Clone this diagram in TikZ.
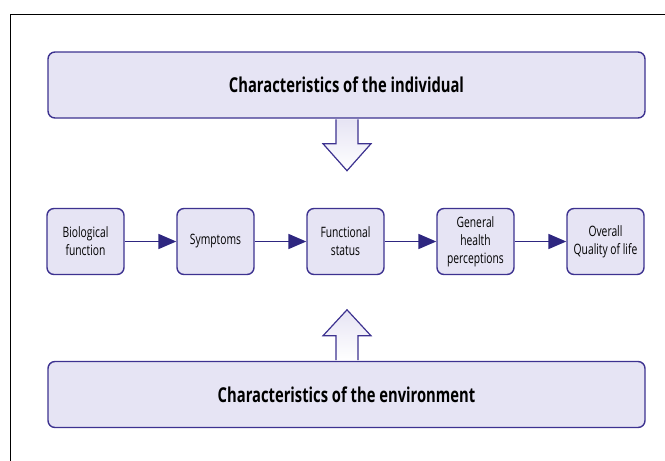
\documentclass[tikz,border=0pt]{standalone}
\usepackage{fontspec}
\setmainfont{Open Sans}[FakeStretch=0.72]
\usetikzlibrary{arrows.meta,calc}
\definecolor{boxfill}{HTML}{E6E4F4}
\definecolor{boxline}{HTML}{3D3290}
\definecolor{arrowcol}{HTML}{2E2680}
\tikzset{
  bigbox/.style={draw=boxline, line width=1.4pt, fill=boxfill, rounded corners=7pt,
    minimum width=597pt, minimum height=66pt, inner sep=0pt,
    font=\fontsize{20.5}{24}\selectfont\bfseries},
  smallbox/.style={draw=boxline, line width=1.4pt, fill=boxfill, rounded corners=7pt,
    minimum width=77pt, minimum height=66pt, inner sep=0pt, align=center,
    font=\fontsize{14.3}{18}\selectfont},
  flow/.style={draw=arrowcol, line width=1.8pt, -{Triangle[length=18pt,width=15pt]}},
  blockarrow/.style={draw=boxline, line width=1.2pt, line join=miter}
}
\begin{document}
\begin{tikzpicture}[x=1pt,y=-1pt]
\useasboundingbox (0,0) rectangle (665,461);
% outer frame
\draw[black, line width=1pt] (10,470) -- (10,14) -- (675,14);
% big boxes
\node[bigbox] (indiv) at (346.5,85) {Characteristics of the individual};
\node[bigbox] (env) at (346.5,394.5) {Characteristics of the environment};
% small boxes
\node[smallbox] (bio) at (85.5,241.5) {Biological\\function};
\node[smallbox] (sym) at (215.5,241.5) {Symptoms};
\node[smallbox] (fun) at (345.5,241.5) {Functional\\status};
\node[smallbox] (gen) at (475.5,241.5) {General\\health\\perceptions};
\node[smallbox] (ovr) at (605.5,241.5) {Overall\\Quality of life};
% flow arrows
\draw[flow] (bio.east) -- (sym.west);
\draw[flow] (sym.east) -- (fun.west);
\draw[flow] (fun.east) -- (gen.west);
\draw[flow] (gen.east) -- (ovr.west);
% block arrow down
\coordinate (dn) at ($(indiv.south)+(0.5,0)$);
\shade[top color=boxfill, bottom color=white]
  ($(dn)+(-11,0.7)$) -- ($(dn)+(-11,25)$) -- ($(dn)+(-24,25)$) -- ($(dn)+(0,52)$)
  -- ($(dn)+(24,25)$) -- ($(dn)+(11,25)$) -- ($(dn)+(11,0.7)$) -- cycle;
\draw[blockarrow]
  ($(dn)+(-11,0.7)$) -- ($(dn)+(-11,25)$) -- ($(dn)+(-24,25)$) -- ($(dn)+(0,52)$)
  -- ($(dn)+(24,25)$) -- ($(dn)+(11,25)$) -- ($(dn)+(11,0.7)$);
% block arrow up
\coordinate (up) at ($(env.north)+(0.5,0)$);
\shade[top color=boxfill, bottom color=white]
  ($(up)+(-11,-0.7)$) -- ($(up)+(-11,-25)$) -- ($(up)+(-24,-25)$) -- ($(up)+(0,-51)$)
  -- ($(up)+(24,-25)$) -- ($(up)+(11,-25)$) -- ($(up)+(11,-0.7)$) -- cycle;
\draw[blockarrow]
  ($(up)+(-11,-0.7)$) -- ($(up)+(-11,-25)$) -- ($(up)+(-24,-25)$) -- ($(up)+(0,-51)$)
  -- ($(up)+(24,-25)$) -- ($(up)+(11,-25)$) -- ($(up)+(11,-0.7)$);
\end{tikzpicture}
\end{document}
